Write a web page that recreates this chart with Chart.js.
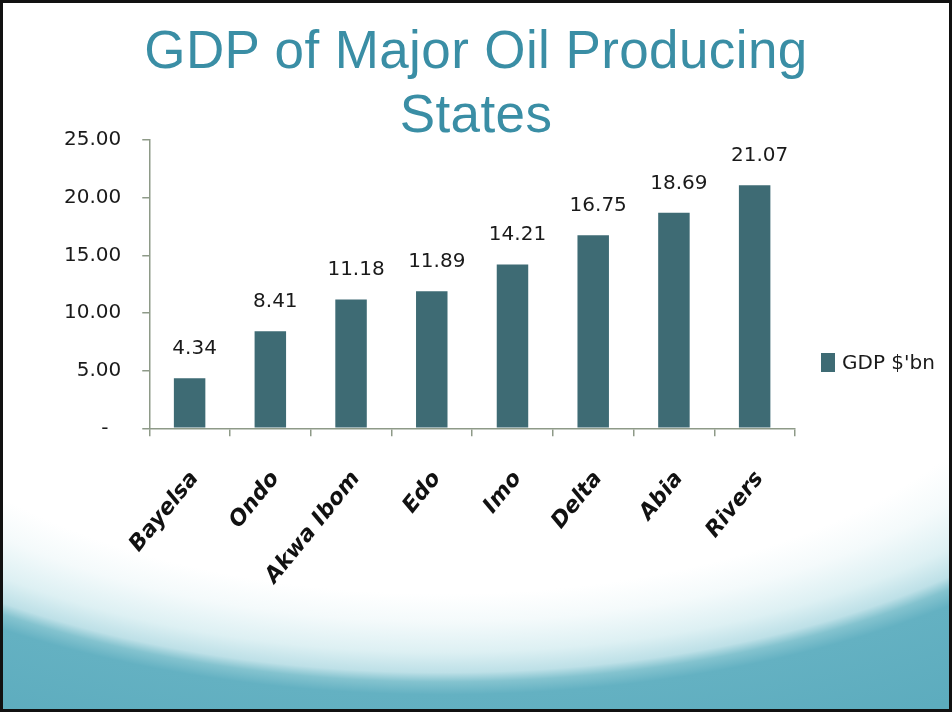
<!DOCTYPE html>
<html>
<head>
<meta charset="utf-8">
<title>GDP of Major Oil Producing States</title>
<script src="https://cdn.jsdelivr.net/npm/chart.js@4.4.1/dist/chart.umd.min.js"></script>
<style>
  html, body { margin: 0; padding: 0; }
  body { width: 952px; height: 712px; overflow: hidden; }
  #page { position: relative; width: 952px; height: 712px; }
  /* slide background: white with the teal swell along the bottom */
  .slide-bg {
    position: absolute; left: 0; top: 0; width: 952px; height: 712px;
    box-sizing: border-box; border: 3px solid #111;
    background:
      radial-gradient(ellipse 956px 469px at 440px -109px,
        #ffffff 0%, #ffffff 62%, #f4fafb 68%, #ddf0f3 74.5%, #bde0e7 78.8%,
        #84c3cf 80.8%, #64b1c2 83.5%, #5dacbe 100%)
        0 409px / 952px 303px no-repeat,
      #ffffff;
  }
  h1 {
    position: absolute; left: 0; right: 0; top: 18px; margin: 0;
    text-align: center; font: 400 53px/64px "Liberation Sans", Arial, sans-serif;
    letter-spacing: 0.4px; color: #3a8ea5;
  }
  #chart { position: absolute; left: 0; top: 0; }
  #legend {
    position: absolute; left: 821px; top: 350px; height: 24px;
    display: flex; align-items: center;
    font: 20px "DejaVu Sans", sans-serif; color: #1a1a1a;
  }
  #legend .swatch { display: inline-block; width: 14px; height: 19px; margin-right: 7px; }
</style>
</head>
<body>
<div id="page">
  <div class="slide-bg"></div>
  <h1>GDP of Major Oil Producing<br>States</h1>
  <canvas id="chart" width="952" height="712"></canvas>
  <div id="legend"></div>
</div>
<script>
// data
const states = ['Bayelsa', 'Ondo', 'Akwa Ibom', 'Edo', 'Imo', 'Delta', 'Abia', 'Rivers'];
const gdp = [4.34, 8.41, 11.18, 11.89, 14.21, 16.75, 18.69, 21.07];
const yTicks = [0, 5, 10, 15, 20, 25];
const seriesLabel = "GDP $'bn";

const barColor = '#3e6b74';
const axisColor = '#8e9a88';
const textColor = '#1a1a1a';

// numbers printed above each bar
const valueLabels = {
  id: 'valueLabels',
  afterDatasetsDraw(chart) {
    const ctx = chart.ctx;
    ctx.save();
    ctx.font = '20px "DejaVu Sans"';
    ctx.fillStyle = textColor;
    ctx.textAlign = 'center';
    ctx.textBaseline = 'alphabetic';
    chart.getDatasetMeta(0).data.forEach(function(bar, i) {
      const v = chart.data.datasets[0].data[i];
      ctx.fillText(v.toFixed(2), bar.x + 5, bar.y - 24);
    });
    ctx.restore();
  }
};

const chart = new Chart(document.getElementById('chart'), {
  type: 'bar',
  data: {
    labels: states,
    datasets: [{
      label: seriesLabel,
      data: gdp,
      backgroundColor: barColor,
      borderWidth: 0,
      categoryPercentage: 1,
      barPercentage: 0.39
    }]
  },
  options: {
    responsive: false,
    animation: false,
    layout: { padding: { left: 43, right: 157, top: 140, bottom: 93 } },
    plugins: {
      legend: { display: false },
      tooltip: { enabled: false }
    },
    scales: {
      x: {
        grid: { drawOnChartArea: false, tickLength: 8, color: axisColor, lineWidth: 1.5 },
        border: { color: axisColor, width: 1.5 },
        ticks: {
          color: '#111',
          font: { family: 'DejaVu Sans', size: 22, weight: 'bold', style: 'italic' },
          minRotation: 51,
          maxRotation: 51,
          autoSkip: false,
          padding: 30,
          labelOffset: 5
        }
      },
      y: {
        min: yTicks[0],
        max: yTicks[yTicks.length - 1],
        afterBuildTicks: function(scale) {
          scale.ticks = yTicks.map(function(v) { return { value: v }; });
        },
        grid: { drawOnChartArea: false, tickLength: 7, color: axisColor, lineWidth: 1.5 },
        border: { color: axisColor, width: 1.5 },
        ticks: {
          color: textColor,
          font: { family: 'DejaVu Sans', size: 20 },
          padding: 21,
          callback: function(value) {
            return value === 0 ? '-  ' : value.toFixed(2);
          }
        }
      }
    }
  },
  plugins: [valueLabels]
});

// legend built from the dataset
const legendEl = document.getElementById('legend');
chart.data.datasets.forEach(function(ds) {
  const sw = document.createElement('span');
  sw.className = 'swatch';
  sw.style.background = ds.backgroundColor;
  legendEl.appendChild(sw);
  legendEl.appendChild(document.createTextNode(ds.label));
});
</script>
</body>
</html>
